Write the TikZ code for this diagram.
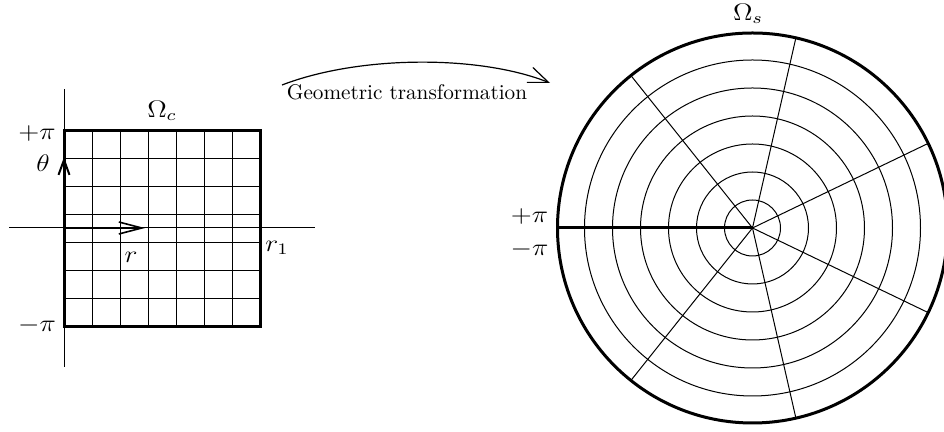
\documentclass[tikz,border=0pt]{standalone}
\usetikzlibrary{arrows.meta}
\usepackage{graphicx}
\newcommand{\lblmath}[1]{\scalebox{1.15}[1]{$#1$}}
\begin{document}
\begin{tikzpicture}[x=0.5pt,y=0.5pt,
  gridline/.style={line width=0.5pt,black},
  boldline/.style={line width=1.5pt,black},
  axisline/.style={line width=0.5pt,black},
  lbl/.style={inner sep=0pt,font=\fontsize{11.7}{14}\selectfont},
  captext/.style={inner sep=0pt,font=\fontsize{10.6}{12.7}\selectfont}]
\useasboundingbox (0,0) rectangle (944,432);
% ---------- left: computational square ----------
\coordinate (sq0) at (64,105);
\coordinate (sq1) at (260,301);
\foreach \i in {1,...,6} {
  \draw[gridline] (64+28*\i,105) -- (64+28*\i,301);
  \draw[gridline] (64,105+28*\i) -- (260,105+28*\i);
}
\coordinate (va0) at (64,65);
\coordinate (va1) at (64,343);
\coordinate (ha0) at (9,204);
\coordinate (ha1) at (315,204);
\draw[axisline] (va0) -- (va1);
\draw[axisline] (ha0) -- (ha1);
\draw[boldline] (sq0) rectangle (sq1);
\coordinate (o) at (64,204);
\coordinate (rt) at (145,204);
\coordinate (tt) at (64,275);
\draw[line width=0.8pt,-{Straight Barb[length=11.5pt,width=6pt]}] (o) -- (rt);
\draw[line width=1pt,-{Straight Barb[length=7.5pt,width=5.5pt]}] (o) -- (tt);
\node[lbl] (omc) at (162,321) {\lblmath{\Omega_c}};
\node[lbl] (ppl) at (37,298) {\lblmath{+\pi}};
\node[lbl] (mpl) at (37,106) {\lblmath{-\pi}};
\node[lbl] (th) at (43,269) {\lblmath{\theta}};
\node[lbl] (rr) at (131,175) {\lblmath{r}};
\node[lbl] (r1) at (277,184) {\lblmath{r_1}};
% ---------- transformation arrow ----------
\coordinate (ts) at (282,347);
\coordinate (te) at (550,349);
\draw[line width=0.6pt,-{Straight Barb[length=10pt,width=8pt]}] (ts) .. controls (360,377) and (480,377) .. (te);
\node[captext] (gt) at (407,339.5) {Geometric transformation};
% ---------- right: physical disc ----------
\coordinate (c) at (752.5,204);
\coordinate (cl) at (557.5,204);
\foreach \r in {28,56,84,112,140,168} {
  \draw[gridline] (c) circle[radius=\r];
}
\foreach \k in {1,...,6} {
  \draw[gridline] (c) -- ++({180-\k*360/7}:195);
}
\draw[boldline] (c) circle[radius=195];
\draw[boldline] (cl) -- (c);
\node[lbl] (oms) at (748,418) {\lblmath{\Omega_s}};
\node[lbl] (ppr) at (529.5,215.5) {\lblmath{+\pi}};
\node[lbl] (mpr) at (529.5,182) {\lblmath{-\pi}};
\end{tikzpicture}
\end{document}
